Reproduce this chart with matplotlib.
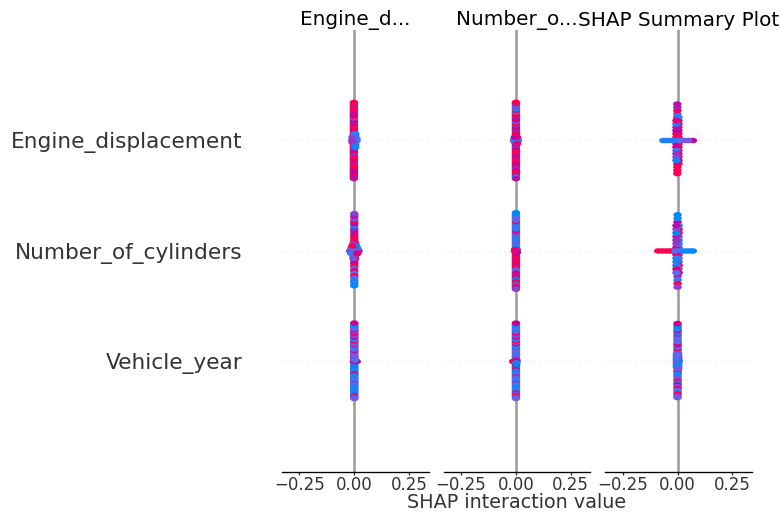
import numpy as np
import matplotlib.pyplot as plt
from matplotlib.colors import LinearSegmentedColormap
from matplotlib.path import Path
from matplotlib.transforms import Affine2D

# feature names, top row first
features = ["Engine_displacement", "Number_of_cylinders", "Vehicle_year"]
panel_titles = ["Engine_d...", "Number_o...", "SHAP Summary Plot"]

# normalised feature values (colour of the dots), one per sample
engine_value = [0.90, 0.80, 1.00, 0.70, 0.95, 0.10, 0.85, 0.60, 1.00, 0.75,
                0.20, 0.90, 0.55, 1.00, 0.80, 0.65, 0.05, 0.90, 0.70, 1.00,
                0.50, 0.85, 0.15, 0.95, 0.60, 0.80, 1.00, 0.70, 0.30, 0.90,
                0.75, 1.00, 0.45, 0.85, 0.10, 0.95, 0.65, 0.80, 0.25, 1.00,
                0.85, 1.00, 0.70, 0.20, 0.90, 0.60, 1.00, 0.80, 0.10, 0.95,
                0.75, 0.55, 1.00, 0.15, 0.85, 0.65, 0.90, 0.05, 1.00, 0.70]
cylinders_value = [0.80, 0.20, 1.00, 0.50, 0.10, 0.90, 0.40, 1.00, 0.00, 0.70,
                   0.30, 1.00, 0.60, 0.10, 0.90, 0.45, 1.00, 0.20, 0.80, 0.55,
                   0.00, 1.00, 0.35, 0.75, 0.15, 0.95, 0.50, 0.05, 1.00, 0.60,
                   0.25, 0.85, 0.40, 1.00, 0.10, 0.70, 0.30, 0.90, 0.00, 0.65,
                   0.30, 0.95, 0.10, 0.60, 1.00, 0.00, 0.75, 0.40, 0.90, 0.20,
                   1.00, 0.50, 0.05, 0.85, 0.35, 1.00, 0.15, 0.70, 0.00, 0.55]
year_value = [0.10, 0.40, 0.00, 0.90, 0.30, 0.50, 0.05, 0.60, 0.20, 1.00,
              0.35, 0.00, 0.45, 0.80, 0.15, 0.50, 0.25, 0.70, 0.00, 0.40,
              0.95, 0.10, 0.55, 0.30, 0.00, 0.65, 0.20, 0.45, 0.85, 0.05,
              0.50, 0.30, 1.00, 0.15, 0.40, 0.60, 0.00, 0.35, 0.75, 0.20,
              0.40, 0.00, 0.60, 0.20, 0.90, 0.10, 0.45, 0.30, 0.00, 0.70,
              0.25, 0.50, 0.05, 0.35, 1.00, 0.15, 0.55, 0.00, 0.40, 0.80]

# SHAP interaction values: panel feature x row feature
eng_eng = [-0.002, -0.002, -0.002, -0.008, -0.002, 0.004, -0.002, -0.002, -0.002, -0.002,
           0.004, -0.002, -0.002, -0.002, -0.002, -0.002, 0.010, -0.002, -0.002, -0.002,
           -0.008, -0.002, 0.004, -0.002, -0.002, -0.002, -0.002, -0.002, 0.010, -0.002,
           -0.002, -0.002, -0.002, -0.002, 0.004, -0.002, -0.002, -0.002, 0.004, -0.002,
           -0.002, -0.002, -0.002, 0.004, -0.002, -0.008, -0.002, -0.002, 0.004, -0.002,
           -0.002, -0.008, -0.002, 0.004, -0.002, -0.002, -0.002, 0.004, -0.002, -0.002]
eng_cyl = [0.0, 0.004, 0.009, 0.0, -0.004, 0.0, 0.014, 0.0, 0.004, 0.019,
           0.0, -0.009, 0.0, -0.004, 0.0, -0.014, 0.0, 0.004, 0.0, -0.009,
           -0.004, 0.0, 0.014, 0.0, 0.004, 0.0, 0.009, -0.004, 0.0, -0.019,
           0.004, 0.0, 0.0, 0.009, -0.004, 0.0, -0.014, 0.0, -0.009, 0.0,
           0.0, 0.004, 0.0, -0.004, 0.0, 0.009, 0.0, 0.0, 0.004, -0.014,
           0.0, -0.004, 0.0, 0.014, 0.0, -0.009, 0.0, 0.0, 0.0, 0.0]
eng_year = [0.0, 0.0, 0.0, 0.0, 0.0, 0.0, 0.0, 0.0, 0.0, 0.002,
            0.0, 0.0, 0.0, -0.002, 0.0, 0.0, 0.0, 0.0, 0.0, 0.0,
            0.0, 0.0, 0.0, 0.0, 0.0, 0.0, 0.0, 0.0, 0.011, 0.0,
            0.0, 0.0, 0.0, 0.0, 0.0, 0.0, 0.0, 0.0, 0.0, 0.0,
            0.0, 0.0, 0.0, 0.0, 0.0, 0.0, 0.0, 0.002, 0.0, 0.0,
            0.0, 0.0, 0.0, 0.0, 0.0, 0.0, 0.0, 0.0, 0.0, 0.0]

cyl_eng = [0.0, 0.0, 0.0, 0.0, 0.0, -0.005, 0.0, 0.0, 0.0, 0.0,
           0.005, 0.0, 0.0, 0.0, 0.0, 0.0, -0.005, 0.0, 0.0, 0.0,
           0.005, 0.0, 0.005, 0.0, 0.0, 0.0, 0.0, 0.0, 0.0, 0.0,
           0.0, 0.0, -0.005, 0.0, 0.009, 0.0, 0.0, 0.0, -0.009, 0.0,
           0.0, 0.0, 0.0, 0.0, 0.005, 0.0, 0.0, 0.0, 0.0, 0.0,
           -0.005, 0.0, 0.0, 0.0, 0.0, 0.0, 0.005, 0.0, 0.0, 0.0]
cyl_cyl = [0.0, 0.0, 0.0, 0.0, 0.0, 0.004, 0.0, 0.0, 0.0, 0.0,
           0.0, 0.0, -0.004, 0.0, 0.0, 0.0, 0.0, 0.0, 0.0, 0.004,
           0.0, 0.0, 0.0, 0.0, 0.0, 0.0, 0.0, 0.003, 0.0, 0.0,
           0.0, 0.0, 0.0, -0.004, 0.0, 0.0, 0.0, 0.0, 0.0, 0.0,
           0.0, 0.0, 0.0, 0.0, 0.0, 0.0, 0.004, 0.0, 0.0, 0.0,
           0.0, 0.0, 0.0, -0.003, 0.0, 0.0, 0.0, 0.0, 0.0, 0.0]
cyl_year = [0.0, 0.0, 0.0, 0.002, 0.0, 0.0, 0.0, 0.0, 0.0, 0.0,
            0.0, 0.0, 0.0, 0.0, 0.0, 0.0, 0.0, 0.002, 0.0, 0.0,
            -0.013, 0.0, 0.0, 0.0, 0.0, 0.0, 0.0, 0.0, 0.0, 0.0,
            0.0, 0.0, 0.0, 0.0, 0.0, 0.0, 0.0, 0.0, 0.0, 0.0,
            0.0, 0.0, 0.0, 0.0, 0.0, 0.0, 0.0, 0.0, 0.0, 0.0,
            0.0, 0.0, 0.002, 0.0, 0.0, 0.0, 0.0, 0.0, 0.0, 0.0]

year_eng = [-0.001, 0.004, -0.001, -0.005, -0.001, -0.065, 0.004, -0.001, -0.005, 0.070,
            -0.010, 0.004, -0.001, 0.020, -0.005, -0.001, -0.050, 0.004, -0.001, -0.005,
            0.050, -0.001, -0.035, 0.004, -0.001, -0.005, -0.001, 0.004, 0.010, -0.001,
            -0.005, 0.004, 0.035, -0.001, -0.020, -0.001, 0.004, -0.001, -0.005, 0.004,
            -0.001, 0.004, -0.005, -0.001, 0.004, -0.005, -0.001, 0.004, -0.005, -0.001,
            0.004, -0.005, -0.001, 0.004, -0.005, -0.001, 0.004, -0.005, -0.001, -0.001]
year_cyl = [0.0, 0.005, -0.088, -0.005, 0.020, 0.0, 0.005, -0.070, 0.070, -0.005,
            0.0, -0.052, 0.005, 0.010, -0.005, 0.0, -0.035, 0.005, 0.0, -0.005,
            0.055, 0.0, 0.005, 0.0, -0.005, -0.020, 0.0, 0.005, 0.0, -0.005,
            -0.010, 0.0, 0.005, 0.0, -0.005, 0.0, 0.005, 0.0, 0.038, -0.005,
            0.0, 0.005, -0.005, 0.0, 0.005, -0.005, 0.0, 0.005, -0.005, 0.0,
            0.005, -0.005, 0.0, 0.005, -0.005, 0.0, 0.005, -0.005, 0.0, 0.0]
year_year = [0.0, 0.0, 0.003, 0.0, 0.0, -0.003, 0.0, 0.0, 0.0, 0.003,
             0.0, 0.0, -0.003, 0.0, 0.0, 0.003, 0.0, 0.0, 0.006, -0.003,
             0.0, 0.0, 0.003, 0.0, 0.0, 0.0, -0.003, 0.0, 0.0, 0.003,
             0.0, 0.0, 0.0, -0.003, 0.0, 0.003, 0.0, 0.0, 0.0, 0.0,
             0.0, 0.003, 0.0, -0.003, 0.0, 0.0, 0.003, 0.0, -0.003, 0.0,
             0.0, 0.003, 0.0, -0.003, 0.0, 0.0, 0.0, 0.0, 0.0, 0.0]

panels = [
    [eng_eng, eng_cyl, eng_year],
    [cyl_eng, cyl_cyl, cyl_year],
    [year_eng, year_cyl, year_year],
]
row_colors = [engine_value, cylinders_value, year_value]

red_blue = LinearSegmentedColormap.from_list(
    "red_blue",
    [(0.0, "#008bfb"), (0.3, "#5a6cf0"), (0.5, "#7d52dc"),
     (0.75, "#c2009a"), (1.0, "#ff0051")])

# the reference is squashed vertically, so the dots look like flat ovals
oval = Path.unit_circle().transformed(Affine2D().scale(1.0, 0.65))


def swarm_offsets(vals, row_height=0.4, nbins=100):
    # shap style stacking of points that fall in the same bin
    vals = np.asarray(vals)
    n = len(vals)
    quant = np.round(nbins * (vals - vals.min()) / (vals.max() - vals.min() + 1e-8))
    inds = np.argsort(quant, kind="stable")
    ys = np.zeros(n)
    layer = 0
    last_bin = -1
    for ind in inds:
        if quant[ind] != last_bin:
            layer = 0
        ys[ind] = np.ceil(layer / 2) * ((layer % 2) * 2 - 1)
        layer += 1
        last_bin = quant[ind]
    ys *= 0.9 * (row_height / np.max(ys + 1))
    return ys


fig, axes = plt.subplots(1, 3, figsize=(781 / 120, 513 / 120), dpi=120)
plt.subplots_adjust(left=0.361, right=0.963, bottom=0.08, top=0.9415, wspace=0.1)

n_feat = len(features)
for i, ax in enumerate(axes):
    ax.axvline(x=0, color="#999999", zorder=-1)
    for j in range(n_feat):
        pos = n_feat - 1 - j
        ax.axhline(y=pos, color="#cccccc", lw=0.5, dashes=(1, 5), zorder=-1)
        vals = np.array(panels[i][j])
        ys = swarm_offsets(vals)
        ax.scatter(vals, pos + ys, c=row_colors[j], cmap=red_blue, vmin=0, vmax=1,
                   s=26, marker=oval, linewidth=0, zorder=3)

    ax.xaxis.set_ticks_position("bottom")
    ax.yaxis.set_ticks_position("none")
    for side in ["right", "top", "left"]:
        ax.spines[side].set_visible(False)
    ax.tick_params(color="#333333", labelcolor="#333333")
    ax.set_yticks(range(n_feat))
    if i == 0:
        ax.set_yticklabels(features[::-1], fontsize=13)
    else:
        ax.set_yticklabels([])
    ax.tick_params("y", length=20, width=0.5, which="major")
    ax.tick_params("x", labelsize=10, length=2, pad=0.3)
    ax.set_ylim(-1, n_feat)
    ax.set_xlim(-0.33, 0.34)
    ax.set_xticks([-0.25, 0.0, 0.25])
    ax.set_title(panel_titles[i], fontsize=12, pad=0.5)

mid = axes[1].get_position()
fig.text((mid.x0 + mid.x1) / 2, 0.8 / 513, "SHAP interaction value", fontsize=11.5,
         color="#333333", ha="center", va="bottom")

fig.savefig("out.png", dpi=120)
